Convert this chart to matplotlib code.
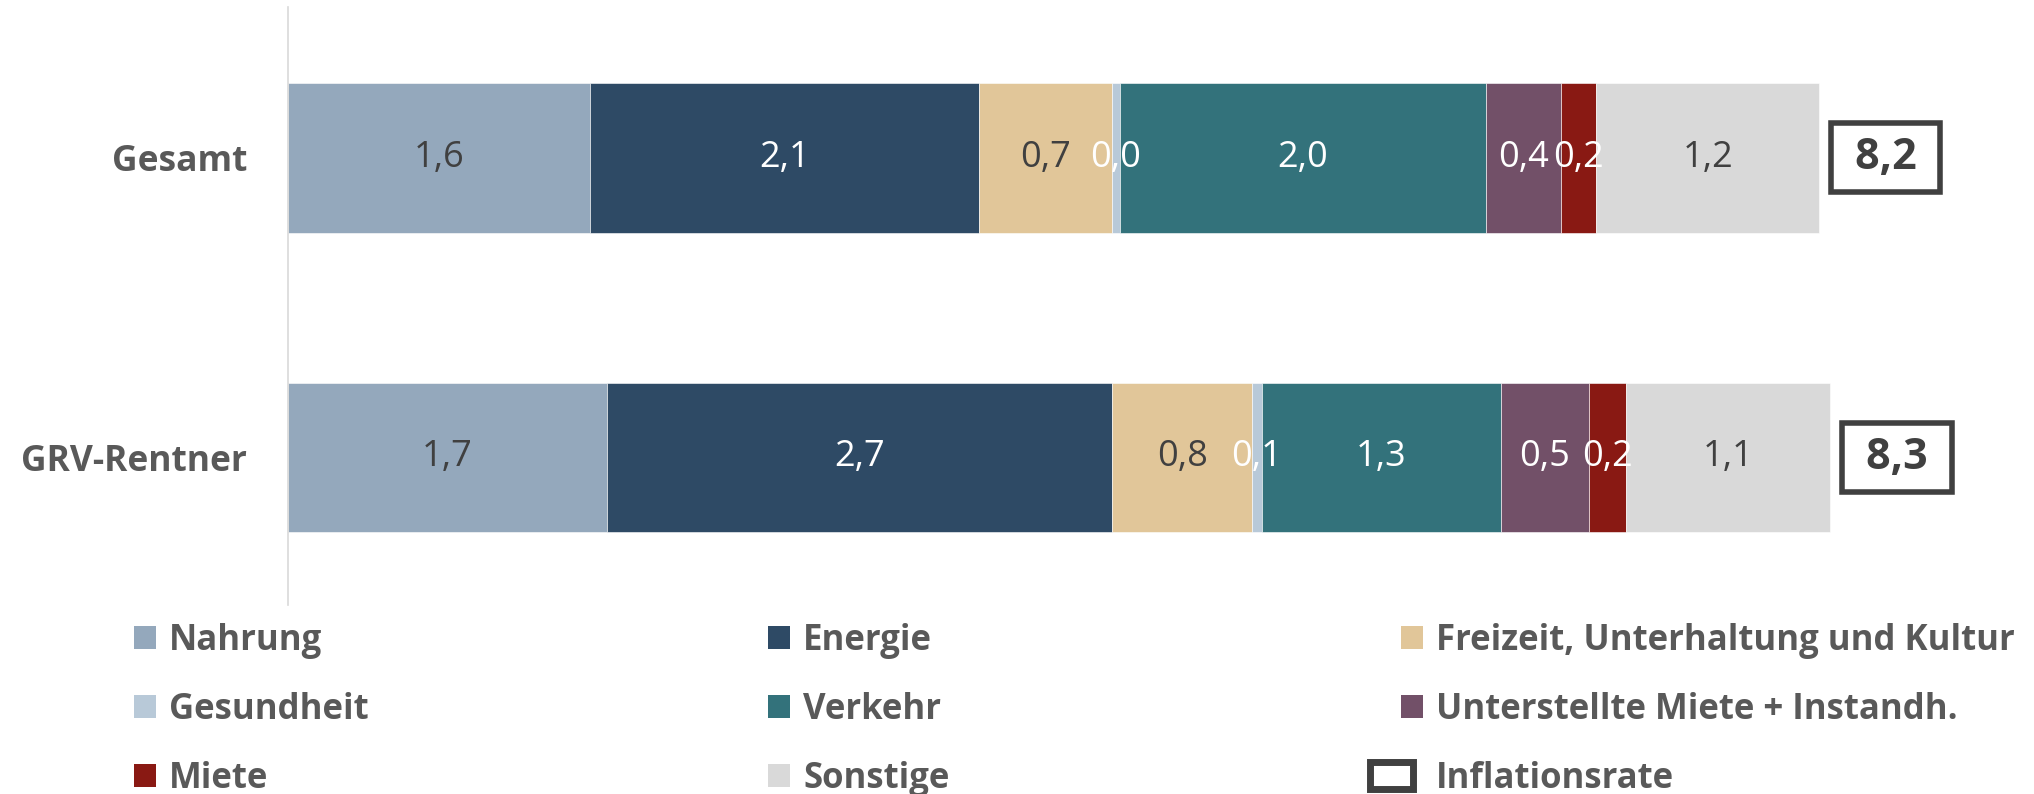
# Inflationsbeiträge nach Gütergruppen (gestapelter Balken)

import matplotlib.pyplot as plt
import numpy as np
from matplotlib.patches import Patch, Rectangle
from matplotlib.legend_handler import HandlerPatch

plt.rcParams['font.family'] = ['Open Sans', 'DejaVu Sans']

# Daten
gruppen = ["GRV-Rentner", "Gesamt"]
kategorien = ["Nahrung", "Energie", "Freizeit, Unterhaltung und Kultur", "Gesundheit",
              "Verkehr", "Unterstellte Miete + Instandh.", "Miete", "Sonstige"]
werte_rentner = [1.71, 2.70, 0.75, 0.05, 1.28, 0.47, 0.20, 1.09]
werte_gesamt = [1.62, 2.08, 0.71, 0.04, 1.96, 0.40, 0.19, 1.19]
inflationsrate = [8.3, 8.2]

farben = ["#94a8bc", "#2e4a65", "#e1c699", "#b8c9d8",
          "#33727b", "#725068", "#891913", "#d9d9d9"]
textfarben = ["#404040", "white", "#404040", "white",
              "white", "white", "white", "#404040"]
grau = "#595959"
dunkel = "#404040"


def komma(v):
    return f"{v:.1f}".replace(".", ",")


fig = plt.figure(figsize=(20.34, 7.94), dpi=100)
ax = fig.add_axes([0.14135, 0.2380, 1 - 0.14135, 0.7531])

y = np.arange(len(gruppen))
werte = np.array([werte_rentner, werte_gesamt])
links = np.zeros(len(gruppen))
for i, kat in enumerate(kategorien):
    bars = ax.barh(y, werte[:, i], left=links, height=0.5, color=farben[i],
                   edgecolor="white", linewidth=0.4)
    ax.bar_label(bars, labels=[komma(v) for v in werte[:, i]], label_type="center",
                 color=textfarben[i], fontsize=26)
    links += werte[:, i]

# Inflationsrate als Kasten rechts neben dem Balken
for yi, summe, rate in zip(y, links, inflationsrate):
    ax.annotate(" " + komma(rate) + " ", xy=(summe, yi), xytext=(48, 0),
                textcoords="offset points", ha="center", va="center",
                fontsize=31, fontweight="bold", color=dunkel,
                bbox=dict(boxstyle="square,pad=0.3", fc="white", ec=dunkel, lw=4))

ax.set_xlim(0, 9.34)
ax.set_ylim(-0.492, 1.502)
ax.set_xticks([])
ax.set_yticks(y, gruppen)
ax.tick_params(axis="y", length=0, pad=29, labelsize=25.5, labelcolor=grau)
for t in ax.get_yticklabels():
    t.set_fontweight("bold")
for s in ["top", "right", "bottom"]:
    ax.spines[s].set_visible(False)
ax.spines["left"].set_color("#d9d9d9")
ax.spines["left"].set_linewidth(1.2)


# Legende: drei Spalten
def kasten_patch(legend, orig_handle, xdescent, ydescent, width, height, fontsize):
    return Rectangle((-xdescent - 1.43 * width, -ydescent - 0.075 * height),
                     2.0 * width, 1.15 * height)


handles = [Patch(facecolor=f, label=k) for k, f in zip(kategorien, farben)]
inf_handle = Patch(facecolor="white", edgecolor=dunkel, linewidth=5, label="Inflationsrate")
handles.append(inf_handle)

spalten = [[0, 3, 6], [1, 4, 7], [2, 5, 8]]
x_spalten = [134 / 2034, 768 / 2034, 1401 / 2034]
for sp, x0 in zip(spalten, x_spalten):
    fig.legend(handles=[handles[i] for i in sp], loc="center left",
               bbox_to_anchor=(x0, 0.106), frameon=False, borderpad=0,
               borderaxespad=0, handlelength=0.63, handleheight=0.63,
               handletextpad=0.38, labelspacing=0.945,
               prop=dict(weight="bold", size=25), labelcolor=grau,
               handler_map={inf_handle: HandlerPatch(patch_func=kasten_patch)})

fig.savefig("out.png", dpi=100)
